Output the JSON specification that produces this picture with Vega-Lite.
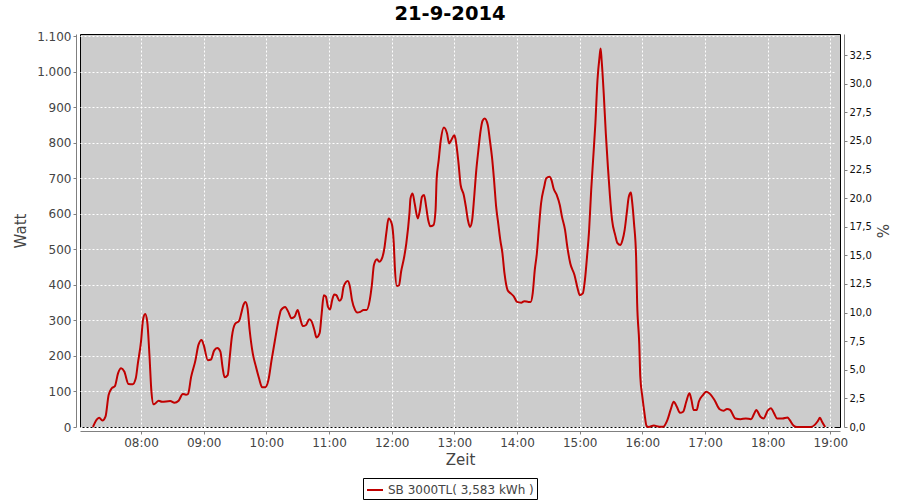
{
  "$schema": "https://vega.github.io/schema/vega-lite/v6.json",
  "width": 760,
  "height": 393,
  "autosize": "none",
  "padding": {"left": 80, "top": 34, "right": 60, "bottom": 73},
  "title": {"text": "21-9-2014", "font": "DejaVu Sans", "fontSize": 19.5, "fontWeight": "bold", "color": "black", "anchor": "middle", "dx": -10, "offset": 6},
  "data": {
    "values": [
      {"time":"07:14","watt":0},{"time":"07:18","watt":22},{"time":"07:20","watt":26},{"time":"07:23","watt":18},{"time":"07:26","watt":29},
      {"time":"07:29","watt":90},{"time":"07:32","watt":109},{"time":"07:35","watt":115},{"time":"07:38","watt":151},{"time":"07:41","watt":165},
      {"time":"07:44","watt":156},{"time":"07:48","watt":121},{"time":"07:52","watt":120},{"time":"07:55","watt":137},{"time":"07:57","watt":179},
      {"time":"08:00","watt":240},{"time":"08:02","watt":303},{"time":"08:04","watt":318},{"time":"08:06","watt":296},{"time":"08:08","watt":207},
      {"time":"08:10","watt":99},{"time":"08:12","watt":64},{"time":"08:13","watt":65},{"time":"08:17","watt":74},{"time":"08:20","watt":71},
      {"time":"08:28","watt":73},{"time":"08:32","watt":68},{"time":"08:36","watt":74},{"time":"08:40","watt":93},{"time":"08:43","watt":91},
      {"time":"08:45","watt":93},{"time":"08:48","watt":141},{"time":"08:52","watt":186},{"time":"08:55","watt":231},{"time":"08:58","watt":245},
      {"time":"09:00","watt":231},{"time":"09:04","watt":188},{"time":"09:07","watt":190},{"time":"09:10","watt":215},{"time":"09:13","watt":222},
      {"time":"09:16","watt":212},{"time":"09:18","watt":170},{"time":"09:20","watt":140},{"time":"09:23","watt":146},{"time":"09:25","watt":198},
      {"time":"09:27","watt":254},{"time":"09:30","watt":290},{"time":"09:34","watt":299},{"time":"09:36","watt":320},{"time":"09:38","watt":343},
      {"time":"09:40","watt":352},{"time":"09:42","watt":334},{"time":"09:44","watt":273},{"time":"09:47","watt":207},{"time":"09:50","watt":170},
      {"time":"09:53","watt":137},{"time":"09:56","watt":112},{"time":"09:59","watt":112},{"time":"10:02","watt":132},{"time":"10:05","watt":188},
      {"time":"10:08","watt":240},{"time":"10:12","watt":306},{"time":"10:14","watt":329},{"time":"10:18","watt":338},{"time":"10:21","watt":324},
      {"time":"10:24","watt":306},{"time":"10:27","watt":310},{"time":"10:30","watt":329},{"time":"10:32","watt":310},{"time":"10:35","watt":284},
      {"time":"10:38","watt":287},{"time":"10:41","watt":303},{"time":"10:43","watt":299},{"time":"10:46","watt":273},{"time":"10:48","watt":252},
      {"time":"10:51","watt":264},{"time":"10:53","watt":320},{"time":"10:55","watt":371},{"time":"10:57","watt":367},{"time":"10:59","watt":338},
      {"time":"11:01","watt":331},{"time":"11:03","watt":357},{"time":"11:05","watt":373},{"time":"11:07","watt":371},{"time":"11:10","watt":355},
      {"time":"11:12","watt":362},{"time":"11:14","watt":395},{"time":"11:18","watt":411},{"time":"11:20","watt":395},{"time":"11:22","watt":357},
      {"time":"11:25","watt":329},{"time":"11:27","watt":322},{"time":"11:30","watt":324},{"time":"11:33","watt":329},{"time":"11:36","watt":329},
      {"time":"11:39","watt":357},{"time":"11:41","watt":399},{"time":"11:43","watt":456},{"time":"11:46","watt":472},{"time":"11:48","watt":465},
      {"time":"11:50","watt":470},{"time":"11:53","watt":503},{"time":"11:55","watt":549},{"time":"11:57","watt":587},{"time":"12:00","watt":573},
      {"time":"12:02","watt":517},{"time":"12:03","watt":451},{"time":"12:05","watt":397},{"time":"12:07","watt":399},{"time":"12:09","watt":437},
      {"time":"12:12","watt":479},{"time":"12:14","watt":517},{"time":"12:17","watt":601},{"time":"12:18","watt":643},{"time":"12:20","watt":657},
      {"time":"12:22","watt":629},{"time":"12:25","watt":587},{"time":"12:27","watt":610},{"time":"12:29","watt":648},{"time":"12:31","watt":653},
      {"time":"12:33","watt":620},{"time":"12:35","watt":582},{"time":"12:37","watt":565},{"time":"12:40","watt":568},{"time":"12:42","watt":610},
      {"time":"12:43","watt":695},{"time":"12:45","watt":751},{"time":"12:47","watt":807},{"time":"12:50","watt":843},{"time":"12:53","watt":826},
      {"time":"12:55","watt":798},{"time":"12:57","watt":807},{"time":"13:00","watt":821},{"time":"13:01","watt":812},{"time":"13:04","watt":742},
      {"time":"13:06","watt":681},{"time":"13:09","watt":653},{"time":"13:11","watt":620},{"time":"13:13","watt":582},{"time":"13:15","watt":563},
      {"time":"13:17","watt":582},{"time":"13:19","watt":648},{"time":"13:21","watt":723},{"time":"13:23","watt":779},{"time":"13:25","watt":831},
      {"time":"13:27","watt":862},{"time":"13:29","watt":868},{"time":"13:32","watt":850},{"time":"13:34","watt":807},{"time":"13:36","watt":760},
      {"time":"13:38","watt":695},{"time":"13:40","watt":620},{"time":"13:42","watt":573},{"time":"13:44","watt":526},{"time":"13:46","watt":489},
      {"time":"13:48","watt":432},{"time":"13:51","watt":385},{"time":"13:54","watt":376},{"time":"13:57","watt":367},{"time":"14:00","watt":352},
      {"time":"14:04","watt":350},{"time":"14:07","watt":354},{"time":"14:11","watt":352},{"time":"14:13","watt":352},{"time":"14:15","watt":376},
      {"time":"14:17","watt":442},{"time":"14:19","watt":489},{"time":"14:21","watt":563},{"time":"14:23","watt":629},{"time":"14:26","watt":676},
      {"time":"14:28","watt":700},{"time":"14:31","watt":704},{"time":"14:33","watt":695},{"time":"14:35","watt":671},{"time":"14:38","watt":653},
      {"time":"14:41","watt":624},{"time":"14:43","watt":592},{"time":"14:46","watt":554},{"time":"14:48","watt":510},{"time":"14:51","watt":460},
      {"time":"14:55","watt":428},{"time":"14:58","watt":390},{"time":"15:00","watt":371},{"time":"15:03","watt":376},{"time":"15:05","watt":414},
      {"time":"15:07","watt":479},{"time":"15:09","watt":554},{"time":"15:11","watt":667},{"time":"15:13","watt":760},{"time":"15:15","watt":854},
      {"time":"15:17","watt":976},{"time":"15:19","watt":1042},{"time":"15:20","watt":1065},{"time":"15:21","watt":1032},{"time":"15:23","watt":939},
      {"time":"15:25","watt":826},{"time":"15:27","watt":732},{"time":"15:29","watt":648},{"time":"15:31","watt":582},{"time":"15:34","watt":540},
      {"time":"15:36","watt":518},{"time":"15:39","watt":512},{"time":"15:41","watt":526},{"time":"15:43","watt":554},{"time":"15:45","watt":601},
      {"time":"15:47","watt":648},{"time":"15:49","watt":660},{"time":"15:50","watt":639},{"time":"15:52","watt":573},{"time":"15:54","watt":479},
      {"time":"15:55","watt":348},{"time":"15:57","watt":235},{"time":"15:58","watt":142},{"time":"16:00","watt":85},{"time":"16:02","watt":39},
      {"time":"16:04","watt":3},{"time":"16:06","watt":0},{"time":"16:11","watt":4},{"time":"16:16","watt":1},{"time":"16:20","watt":1},
      {"time":"16:24","watt":20},{"time":"16:27","watt":48},{"time":"16:30","watt":71},{"time":"16:33","watt":57},{"time":"16:36","watt":40},
      {"time":"16:39","watt":43},{"time":"16:42","watt":71},{"time":"16:45","watt":95},{"time":"16:47","watt":76},{"time":"16:49","watt":48},
      {"time":"16:52","watt":48},{"time":"16:54","watt":71},{"time":"16:58","watt":90},{"time":"17:01","watt":99},{"time":"17:04","watt":95},
      {"time":"17:09","watt":76},{"time":"17:14","watt":50},{"time":"17:18","watt":46},{"time":"17:21","watt":51},{"time":"17:24","watt":48},
      {"time":"17:29","watt":24},{"time":"17:34","watt":22},{"time":"17:39","watt":24},{"time":"17:44","watt":22},{"time":"17:47","watt":37},
      {"time":"17:49","watt":48},{"time":"17:53","watt":29},{"time":"17:56","watt":24},{"time":"18:00","watt":46},{"time":"18:03","watt":53},
      {"time":"18:06","watt":39},{"time":"18:09","watt":24},{"time":"18:14","watt":24},{"time":"18:19","watt":27},{"time":"18:21","watt":20},
      {"time":"18:25","watt":3},{"time":"18:28","watt":0},{"time":"18:41","watt":0},{"time":"18:45","watt":6},{"time":"18:48","watt":17},
      {"time":"18:50","watt":26},{"time":"18:52","watt":15},{"time":"18:55","watt":0}
    ],
    "format": {"parse": {"time": "date:'%H:%M'"}}
  },
  "layer": [
    {
      "mark": {"type": "line", "strokeWidth": 2, "interpolate": "monotone"},
      "encoding": {
        "x": {
          "field": "time", "type": "temporal",
          "scale": {"domain": [{"year": 1900, "month": 1, "date": 1, "hours": 7, "minutes": 1, "seconds": 36}, {"year": 1900, "month": 1, "date": 1, "hours": 19, "minutes": 9, "seconds": 12}], "nice": false},
          "axis": {
            "title": "Zeit", "format": "%H:%M", "labelPadding": 3, "titlePadding": 4,
            "values": [
              {"year": 1900, "month": 1, "date": 1, "hours": 8}, {"year": 1900, "month": 1, "date": 1, "hours": 9},
              {"year": 1900, "month": 1, "date": 1, "hours": 10}, {"year": 1900, "month": 1, "date": 1, "hours": 11},
              {"year": 1900, "month": 1, "date": 1, "hours": 12}, {"year": 1900, "month": 1, "date": 1, "hours": 13},
              {"year": 1900, "month": 1, "date": 1, "hours": 14}, {"year": 1900, "month": 1, "date": 1, "hours": 15},
              {"year": 1900, "month": 1, "date": 1, "hours": 16}, {"year": 1900, "month": 1, "date": 1, "hours": 17},
              {"year": 1900, "month": 1, "date": 1, "hours": 18}, {"year": 1900, "month": 1, "date": 1, "hours": 19}
            ]
          }
        },
        "y": {
          "field": "watt", "type": "quantitative",
          "scale": {"domain": [0, 1106], "nice": false},
          "axis": {"title": "Watt", "orient": "left", "values": [0,100,200,300,400,500,600,700,800,900,1000,1100], "labelExpr": "replace(format(datum.value, ',d'), ',', '.')", "titlePadding": 8}
        },
        "color": {
          "datum": "SB 3000TL( 3,583 kWh )",
          "type": "nominal",
          "scale": {"range": ["#c00000"]},
          "legend": {"title": null}
        }
      }
    },
    {
      "mark": {"type": "line", "opacity": 0, "clip": true},
      "encoding": {
        "x": {"field": "time", "type": "temporal"},
        "y": {
          "field": "watt", "type": "quantitative",
          "scale": {"domain": [0, 34.35], "nice": false},
          "axis": {"title": "%", "orient": "right", "grid": false, "values": [0,2.5,5,7.5,10,12.5,15,17.5,20,22.5,25,27.5,30,32.5], "labelExpr": "replace(format(datum.value, '.1f'), '.', ',')", "labelFontSize": 10, "labelColor": "#111111", "titlePadding": 2}
        }
      }
    }
  ],
  "resolve": {"scale": {"y": "independent"}, "axis": {"y": "independent"}},
  "config": {
    "view": {"fill": "#cccccc", "stroke": "black", "strokeWidth": 1},
    "axis": {
      "domainColor": "#808080", "tickColor": "#808080", "tickSize": 3, "offset": 4,
      "labelColor": "#444444", "labelFont": "DejaVu Sans", "labelFontSize": 12, "labelPadding": 2,
      "titleFont": "DejaVu Sans", "titleFontSize": 15, "titleFontWeight": "normal", "titleColor": "#444444",
      "gridColor": "white", "gridDash": [2, 2], "gridOpacity": 1, "gridWidth": 1
    },
    "legend": {
      "orient": "none", "legendX": 283, "legendY": 444, "direction": "horizontal",
      "strokeColor": "black", "fillColor": "white", "padding": 3,
      "labelFont": "DejaVu Sans", "labelFontSize": 12, "labelColor": "#444444",
      "symbolType": "stroke", "symbolStrokeWidth": 2, "symbolSize": 256
    }
  }
}
